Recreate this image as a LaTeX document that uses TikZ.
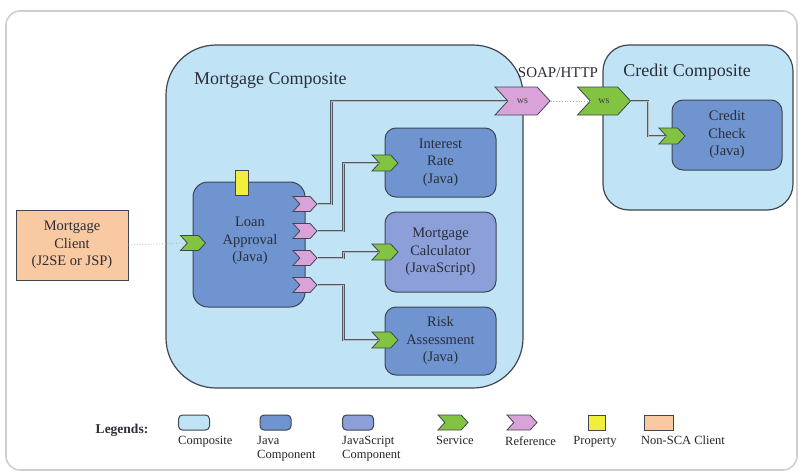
\documentclass[tikz,border=0pt]{standalone}
\usepackage{fontspec}
\setmainfont{Liberation Serif}
\usetikzlibrary{shapes.symbols}

\definecolor{compfill}{HTML}{C0E4F6}
\definecolor{javafill}{HTML}{6F94D0}
\definecolor{jsfill}{HTML}{8C9FD9}
\definecolor{svcgreen}{HTML}{82C341}
\definecolor{refpink}{HTML}{D9A3D9}
\definecolor{propyellow}{HTML}{F2EE3C}
\definecolor{clientpeach}{HTML}{F9C9A2}
\definecolor{edgegray}{HTML}{3F4650}
\definecolor{framegray}{HTML}{CFCFCF}
\definecolor{inkdark}{HTML}{2A2E38}

\newcommand\fsbox{\rmfamily\fontsize{14.5}{17.5}\selectfont}
\newcommand\fstitle{\rmfamily\fontsize{18}{21}\selectfont}
\newcommand\fslegend{\rmfamily\fontsize{12.5}{14.5}\selectfont}
\newcommand\fsws{\rmfamily\fontsize{10}{11}\selectfont}

\tikzset{
  composite/.style={draw=edgegray, fill=compfill, line width=1.2pt},
  component/.style={draw=edgegray, fill=javafill, line width=1pt, rounded corners=11pt,
    align=center, font=\fsbox, text=inkdark, inner sep=0pt},
  jscomponent/.style={component, fill=jsfill},
  port/.style={signal, signal to=east, signal from=west, signal pointer angle=95,
    draw=edgegray, line width=0.8pt, minimum width=26pt, minimum height=16pt, inner sep=0pt},
  svcport/.style={port, fill=svcgreen},
  refport/.style={port, fill=refpink},
  wire/.style={draw=edgegray!90, line width=0.7pt, double=gray!55, double distance=0.7pt},
  binding/.style={draw=gray!60, line width=0.8pt, dotted},
  legendbox/.style={draw=edgegray, line width=1pt, rounded corners=4pt,
    minimum width=31pt, minimum height=15pt, inner sep=0pt},
  legendlabel/.style={font=\fslegend, text=gray!30!black, align=left, inner sep=0pt},
  titletext/.style={font=\fstitle, text=inkdark, inner sep=0pt},
}

\begin{document}
\begin{tikzpicture}[x=1pt,y=-1pt]
  % canvas and outer frame
  \fill[white] (0,0) rectangle (801,472);
  \useasboundingbox (0,0) rectangle (801,472);
  \draw[framegray, line width=1.6pt, rounded corners=14pt] (6,11) rectangle (797,470);

  % composites
  \node[composite, rounded corners=50pt, minimum width=357pt, minimum height=343pt]
    (mortgage) at (344.5,216.5) {};
  \node[titletext, anchor=west] (mortgagetitle) at (194,80) {Mortgage Composite};
  \node[composite, rounded corners=26pt, minimum width=190pt, minimum height=165pt]
    (credit) at (698,127.5) {};
  \node[titletext] (credittitle) at (687,72) {Credit Composite};

  % client outside the composites
  \node[draw=edgegray, fill=clientpeach, line width=1pt, minimum width=112pt, minimum height=70pt,
        align=center, font=\fsbox, text=inkdark, inner sep=0pt]
    (client) at (72,245) {Mortgage\\Client\\(J2SE or JSP)};

  % components
  \node[component, rounded corners=15pt, minimum width=112pt, minimum height=125pt]
    (loan) at (249,244.5) {};
  \node[font=\fsbox, text=inkdark, align=center, inner sep=0pt] (loantext) at (250,241)
    {Loan\\Approval\\(Java)};
  \node[component, minimum width=111pt, minimum height=69pt] (rate) at (440.5,162.5)
    {Interest\\Rate\\(Java)};
  \node[jscomponent, minimum width=111pt, minimum height=80pt] (calc) at (440.5,252)
    {Mortgage\\Calculator\\(JavaScript)};
  \node[component, minimum width=111pt, minimum height=68pt] (risk) at (440.5,341)
    {Risk\\Assessment\\(Java)};
  \node[component, minimum width=110pt, minimum height=70pt] (check) at (727,135)
    {Credit\\Check\\(Java)};

  % property of the loan approval component
  \node[draw=edgegray, fill=propyellow, line width=0.8pt, minimum width=13pt, minimum height=25pt,
        inner sep=0pt] (prop) at (241.5,182.5) {};

  % services
  \node[svcport, minimum width=25pt, minimum height=15pt] (loansvc) at (193,243) {};
  \node[svcport] (ratesvc) at (385,163) {};
  \node[svcport] (calcsvc) at (385,252) {};
  \node[svcport] (risksvc) at (385,340) {};
  \node[svcport] (checksvc) at (672,136) {};
  \node[svcport, minimum width=53pt, minimum height=28pt, font=\fsws, text=gray!50!black]
    (wssvc) at (604,101) {ws};

  % references
  \node[refport, minimum width=24pt, minimum height=15pt] (ref1) at (305,204) {};
  \node[refport, minimum width=24pt, minimum height=15pt] (ref2) at (305,231) {};
  \node[refport, minimum width=24pt, minimum height=15pt] (ref3) at (305,258) {};
  \node[refport, minimum width=24pt, minimum height=15pt] (ref4) at (305,285) {};
  \node[refport, minimum width=55pt, minimum height=28pt, font=\fsws, text=gray!50!black]
    (wsref) at (522.5,101) {ws};

  % wires
  \draw[wire] (ref1.east) -- ++(14,0) |- (wsref.west);
  \draw[wire] (ref2.east) -- ++(26,0) |- (ratesvc.west);
  \draw[wire] (ref3.east) -- ++(26,0) |- (calcsvc.west);
  \draw[wire] (ref4.east) -- ++(26,0) |- (risksvc.west);
  \draw[wire] (wssvc.east) -- ++(17,0) |- (checksvc.west);

  % bindings
  \draw[binding] (client.east) -- (loansvc.west);
  \draw[binding] (wsref.east) -- (wssvc.west);
  \node[font=\rmfamily\fontsize{15}{17}\selectfont, text=inkdark, inner sep=0pt] (soap) at (558,73) {SOAP/HTTP};

  % legend
  \node[font=\rmfamily\bfseries\fontsize{13.5}{15}\selectfont, text=inkdark, inner sep=0pt]
    (legendtitle) at (122,430) {Legends:};
  \node[legendbox, fill=compfill] (lgcomp) at (194,422.5) {};
  \node[legendbox, fill=javafill] (lgjava) at (275.5,422.5) {};
  \node[legendbox, fill=jsfill] (lgjs) at (358,422.5) {};
  \node[svcport, minimum width=30pt, minimum height=15pt] (lgsvc) at (453,422.5) {};
  \node[refport, minimum width=30pt, minimum height=15pt] (lgref) at (522,422.5) {};
  \node[draw=edgegray, fill=propyellow, line width=0.8pt, minimum width=17pt, minimum height=15pt,
        inner sep=0pt] (lgprop) at (596.5,422.5) {};
  \node[draw=edgegray, fill=clientpeach, line width=1pt, minimum width=29pt, minimum height=15pt,
        inner sep=0pt] (lgclient) at (658.5,422.5) {};

  \node[legendlabel, anchor=north west] (lblcomp) at (178,436) {Composite};
  \node[legendlabel, anchor=north west] (lbljava) at (257,436) {Java\\Component};
  \node[legendlabel, anchor=north west] (lbljs) at (342,436) {JavaScript\\Component};
  \node[legendlabel, anchor=north west] (lblsvc) at (436,436) {Service};
  \node[legendlabel, anchor=north west] (lblref) at (505,436) {Reference};
  \node[legendlabel, anchor=north] (lblprop) at (595,436) {Property};
  \node[legendlabel, anchor=north west] (lblclient) at (641,436) {Non-SCA Client};
\end{tikzpicture}
\end{document}
